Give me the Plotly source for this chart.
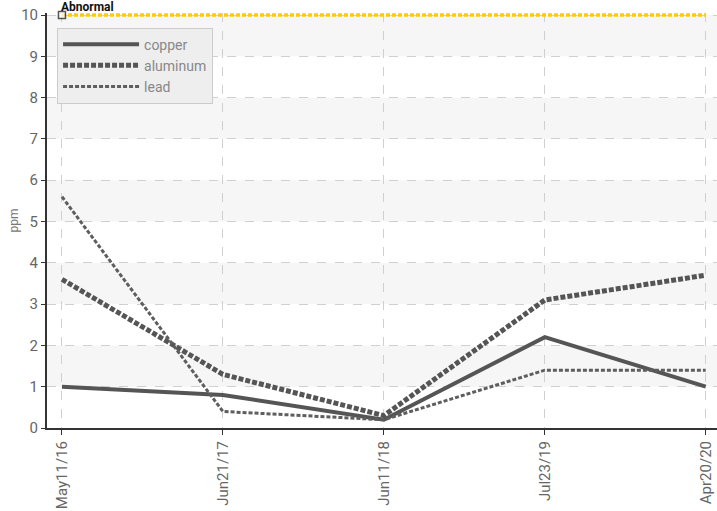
import plotly.graph_objects as go

dates = ["May11/16", "Jun21/17", "Jun11/18", "Jul23/19", "Apr20/20"]
copper = [1.0, 0.8, 0.2, 2.2, 1.0]
aluminum = [3.6, 1.3, 0.3, 3.1, 3.7]
lead = [5.6, 0.4, 0.2, 1.4, 1.4]
abnormal = [10, 10, 10, 10, 10]
y_ticks = list(range(0, 11))

FONT = "Roboto, sans-serif"
xpos = list(range(len(dates)))

fig = go.Figure()
fig.add_trace(go.Scatter(x=xpos, y=copper, name="copper", mode="lines",
                         line=dict(color="#555555", width=4)))
fig.add_trace(go.Scatter(x=xpos, y=aluminum, name="aluminum", mode="lines",
                         line=dict(color="#555555", width=5, dash="5px,2px")))
fig.add_trace(go.Scatter(x=xpos, y=lead, name="lead", mode="lines",
                         line=dict(color="#5e5e5e", width=3, dash="4px,2px")))
fig.add_trace(go.Scatter(x=xpos, y=abnormal, name="Abnormal", mode="lines+markers",
                         showlegend=False, cliponaxis=False,
                         line=dict(color="#FFCC00", width=3.5, dash="4px,2px"),
                         marker=dict(symbol="square", size=[7, 0, 0, 0, 0],
                                     color="white", line=dict(width=1.5, color="#111111"))))

shapes = []
for lo in [1, 3, 5, 7, 9]:
    shapes.append(dict(type="rect", xref="paper", yref="y", x0=0, x1=1, y0=lo, y1=lo + 1,
                       fillcolor="#f6f6f6", line=dict(width=0), layer="below"))

fig.update_layout(
    width=717, height=511,
    margin=dict(l=47, r=0, t=13, b=83),
    paper_bgcolor="white", plot_bgcolor="white",
    shapes=shapes,
    showlegend=True,
    legend=dict(x=0.015, y=0.965, xanchor="left", yanchor="top",
                bgcolor="#eeeeee", bordercolor="#cccccc", borderwidth=1,
                font=dict(family=FONT, size=14, color="#888888"),
                itemwidth=76, tracegroupgap=0),
    annotations=[dict(x=0, y=10, xref="x", yref="y", text="<b>Abnormal</b>",
                      showarrow=False, xanchor="left", yanchor="bottom", yshift=-1, xshift=-3,
                      font=dict(family=FONT, size=12, color="#111111"))],
)
fig.update_xaxes(
    range=[-0.093, 4.07], tickmode="array", tickvals=xpos, ticktext=dates,
    tickangle=-90, tickfont=dict(family=FONT, size=15, color="#666666"),
    showgrid=True, gridcolor="#d0d0d0", griddash="dash", gridwidth=1,
    showline=True, linecolor="#333333", linewidth=2,
    ticks="outside", ticklen=5, tickcolor="#333333", zeroline=False,
    automargin=False,
)
fig.update_yaxes(
    range=[0, 10.05], tickmode="array", tickvals=y_ticks,
    tickfont=dict(family=FONT, size=15, color="#666666"),
    title=dict(text="ppm", font=dict(family=FONT, size=12, color="#777777"), standoff=0),
    showgrid=True, gridcolor="#d0d0d0", griddash="dash", gridwidth=1,
    showline=True, linecolor="#333333", linewidth=2,
    ticks="outside", ticklen=4, tickcolor="#333333", zeroline=False,
    automargin=False, ticklabeloverflow="allow",
)

# remove the browser's default 8px body margin so the figure fills the window
fig.write_html("out.html", config={"displayModeBar": False},
               post_script="document.body.style.margin='0';")
